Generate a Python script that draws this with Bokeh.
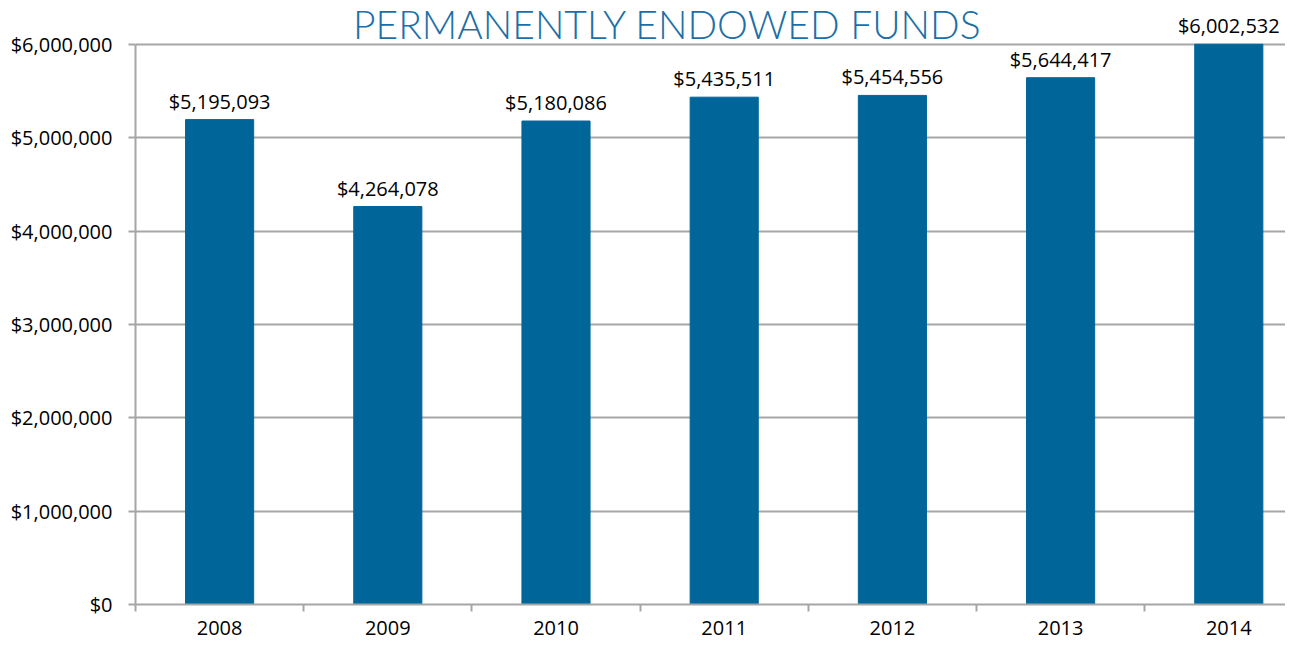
from bokeh.plotting import figure
from bokeh.models import (ColumnDataSource, Range1d, FixedTicker, NumeralTickFormatter,
                          LabelSet, Label)
from bokeh.core.properties import value
from bokeh.embed import file_html
from bokeh.resources import INLINE

years = [2008, 2009, 2010, 2011, 2012, 2013, 2014]
values = [5195093, 4264078, 5180086, 5435511, 5454556, 5644417, 6002532]
y_ticks = [0, 1000000, 2000000, 3000000, 4000000, 5000000, 6000000]
title_text = "PERMANENTLY ENDOWED FUNDS"

labels = ["${:,}".format(v) for v in values]
source = ColumnDataSource(data=dict(year=years, value=values, label=labels))

FONT = "Open Sans"
GRAY = "#a6a6a6"
BLUE = "#006699"

W, H = 1285, 639
LEFT, BOTTOM = 135, 35
TOP_PX = 44                     # pixel row where the top tick sits
frame_h = H - BOTTOM            # frame spans from canvas top to bottom border
top_tick = y_ticks[-1]
y_end = top_tick * frame_h / (frame_h - TOP_PX)
per_px = y_end / frame_h
x_span = (W - LEFT) / 168.2

p = figure(width=W, height=H, output_backend="svg", toolbar_location=None,
           x_range=Range1d(years[0] - 0.5, years[0] - 0.5 + x_span),
           y_range=Range1d(0, y_end),
           min_border_left=LEFT, min_border_right=0, min_border_top=0,
           min_border_bottom=BOTTOM)
p.outline_line_color = None
p.background_fill_color = "white"
p.border_fill_color = "white"

p.vbar(x="year", top="value", width=0.405, source=source, color=BLUE)

# y axis
p.yaxis.ticker = FixedTicker(ticks=y_ticks)
p.yaxis.bounds = (y_ticks[0], y_ticks[-1])
p.yaxis.formatter = NumeralTickFormatter(format="$0,0")
p.yaxis.axis_line_color = GRAY
p.yaxis.axis_line_width = 2
p.yaxis.major_tick_line_color = GRAY
p.yaxis.major_tick_line_width = 2
p.yaxis.major_tick_out = 7
p.yaxis.major_tick_in = 0
p.yaxis.minor_tick_line_color = None
p.yaxis.major_label_standoff = 16
p.yaxis.major_label_text_font = FONT
p.yaxis.major_label_text_font_size = "20px"
p.yaxis.major_label_text_color = "black"

# x axis: labels at bar centres, tick marks between categories
boundaries = [y - 0.5 for y in years] + [years[-1] + 0.5]
p.xaxis.ticker = FixedTicker(ticks=years, minor_ticks=boundaries)
p.xaxis.axis_line_color = GRAY
p.xaxis.axis_line_width = 2
p.xaxis.major_tick_line_color = None
p.xaxis.major_tick_out = 0
p.xaxis.major_tick_in = 0
p.xaxis.minor_tick_line_color = GRAY
p.xaxis.minor_tick_line_width = 2
p.xaxis.minor_tick_out = 7
p.xaxis.minor_tick_in = 0
p.xaxis.major_label_standoff = 9
p.xaxis.major_label_text_font = FONT
p.xaxis.major_label_text_font_size = "20px"
p.xaxis.major_label_text_color = "black"

p.xgrid.grid_line_color = None
p.ygrid.grid_line_color = GRAY
p.ygrid.grid_line_width = 2

lbls = LabelSet(x="year", y="value", text="label", source=source, y_offset=11,
                text_align="center", text_baseline="alphabetic",
                text_font=value(FONT), text_font_size=value("20px"),
                text_color="black")
p.add_layout(lbls)

title = Label(x=2010.663, y=top_tick + 21 * per_px, text=title_text,
              text_align="center", text_baseline="alphabetic",
              text_font="Lato Light, Lato", text_font_size="39px",
              text_color="#1c6fa6")
p.add_layout(title)

open("out.html", "w").write(file_html(p, INLINE))
